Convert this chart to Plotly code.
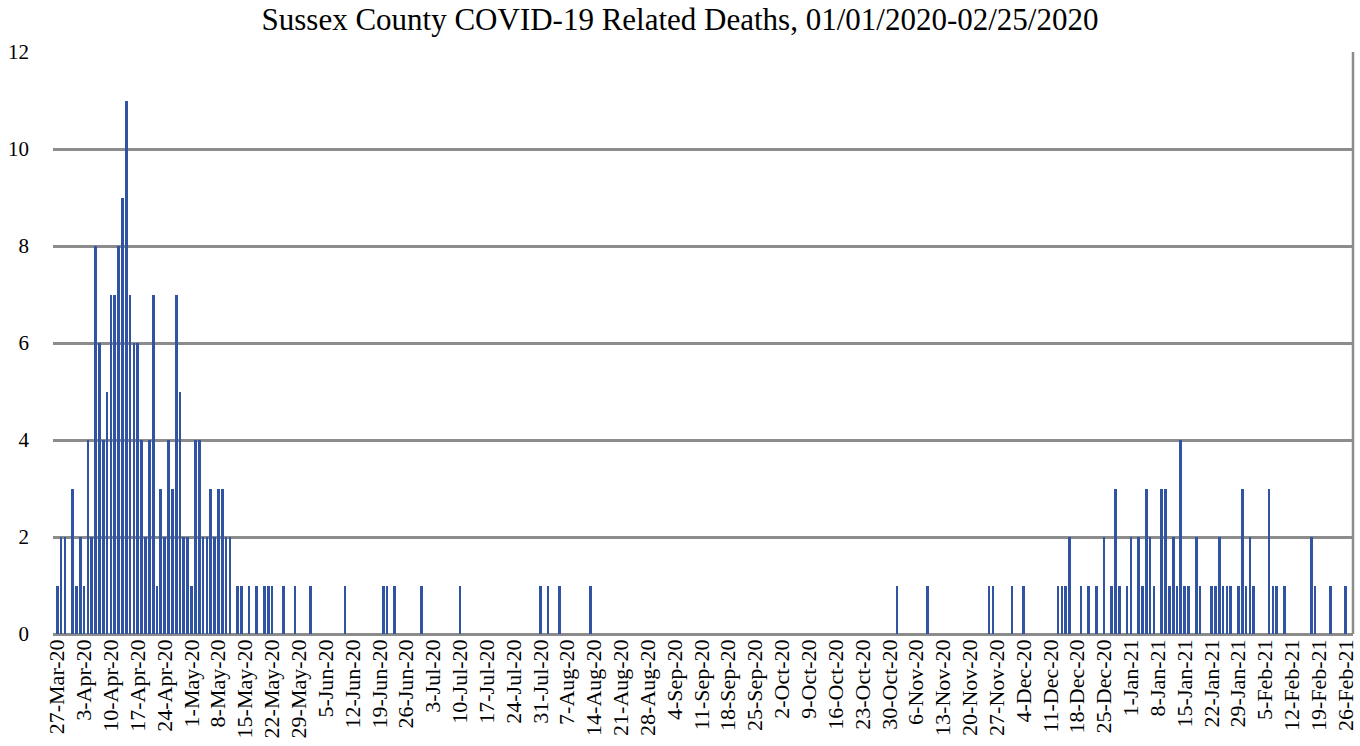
import pandas as pd
import plotly.graph_objects as go

# Daily deaths (only non-zero days listed; other days are 0)
wave1_dates = pd.date_range("2020-03-27", "2020-05-11", freq="D").strftime("%Y-%m-%d").tolist()
wave1_counts = [1, 2, 2, 0, 3, 1, 2, 1, 4, 2, 8, 6, 4, 5, 7, 7, 8, 9, 11, 7,
                6, 6, 4, 2, 4, 7, 1, 3, 2, 4, 3, 7, 5, 2, 2, 1, 4, 4, 2, 2,
                3, 2, 3, 3, 2, 2]

later_dates = ["2020-05-13", "2020-05-14", "2020-05-16", "2020-05-18", "2020-05-20",
               "2020-05-21", "2020-05-22", "2020-05-25", "2020-05-28", "2020-06-01",
               "2020-06-10", "2020-06-20", "2020-06-21", "2020-06-23", "2020-06-30",
               "2020-07-10", "2020-07-31", "2020-08-02", "2020-08-05", "2020-08-13",
               "2020-11-01", "2020-11-09", "2020-11-25", "2020-11-26", "2020-12-01",
               "2020-12-04", "2020-12-13", "2020-12-14", "2020-12-15", "2020-12-16",
               "2020-12-19", "2020-12-21", "2020-12-23", "2020-12-25", "2020-12-27",
               "2020-12-28", "2020-12-29", "2020-12-31", "2021-01-01", "2021-01-03",
               "2021-01-04", "2021-01-05", "2021-01-06", "2021-01-07", "2021-01-09",
               "2021-01-10", "2021-01-11", "2021-01-12", "2021-01-13", "2021-01-14",
               "2021-01-15", "2021-01-16", "2021-01-18", "2021-01-19", "2021-01-22",
               "2021-01-23", "2021-01-24", "2021-01-25", "2021-01-26", "2021-01-27",
               "2021-01-29", "2021-01-30", "2021-01-31", "2021-02-01", "2021-02-02",
               "2021-02-06", "2021-02-07", "2021-02-08", "2021-02-10", "2021-02-17",
               "2021-02-18", "2021-02-22", "2021-02-26"]
later_counts = [1, 1, 1, 1, 1,
                1, 1, 1, 1, 1,
                1, 1, 1, 1, 1,
                1, 1, 1, 1, 1,
                1, 1, 1, 1, 1,
                1, 1, 1, 1, 2,
                1, 1, 1, 2, 1,
                3, 1, 1, 2, 2,
                1, 3, 2, 1, 3,
                3, 1, 2, 1, 4,
                1, 1, 2, 1, 1,
                1, 2, 1, 1, 1,
                1, 3, 1, 2, 1,
                3, 1, 1, 1, 2,
                1, 1, 1]

y_ticks = [0, 2, 4, 6, 8, 10, 12]
title_text = "Sussex County COVID-19 Related Deaths, 01/01/2020-02/25/2020"

# full daily series
all_days = pd.date_range("2020-03-27", "2021-02-26", freq="D")
series = pd.Series(0, index=all_days)
for d, v in zip(wave1_dates, wave1_counts):
    series[pd.Timestamp(d)] = v
for d, v in zip(later_dates, later_counts):
    series[pd.Timestamp(d)] = v

DAY_MS = 86400000
fig = go.Figure()
fig.add_trace(go.Bar(
    x=series.index, y=series.values,
    width=0.7 * DAY_MS,
    marker=dict(color="#3053A3", line=dict(width=0)),
))

fig.update_layout(
    width=1360, height=746,
    margin=dict(l=53, r=7, t=52, b=112, autoexpand=False),
    paper_bgcolor="white", plot_bgcolor="white",
    showlegend=False,
    bargap=0,
    title=dict(text=title_text, x=0.5, xanchor="center",
               yref="container", y=0.989, yanchor="top",
               font=dict(family="Liberation Serif", size=31, color="#000000")),
    font=dict(family="Liberation Serif", color="#000000"),
)
fig.update_xaxes(
    type="date", automargin=False,
    range=["2020-03-25 21:07", "2021-02-27 21:36"],
    tick0="2020-03-27", dtick=7 * DAY_MS, tickformat="%-d-%b-%y",
    tickangle=-90, tickfont=dict(family="Liberation Serif", size=22, color="#000"),
    showgrid=False, zeroline=False, showline=False, ticks="",
)
fig.update_yaxes(
    range=[0, 12], tickvals=y_ticks, automargin=False,
    tickfont=dict(family="Liberation Serif", size=21, color="#000"),
    showgrid=True, gridcolor="#8C8C8C", gridwidth=2.5,
    zeroline=True, zerolinecolor="#8C8C8C", zerolinewidth=3,
    showline=False, ticks="", ticklabelstandoff=23,
)
# back-wall right edge
fig.add_shape(type="line", xref="paper", yref="y", x0=1, x1=1, y0=0, y1=12,
              line=dict(color="#8C8C8C", width=2.5))

fig.write_html("out.html",
               config={"displayModeBar": False},
               post_script="document.body.style.margin='0';document.body.style.overflow='hidden';")
